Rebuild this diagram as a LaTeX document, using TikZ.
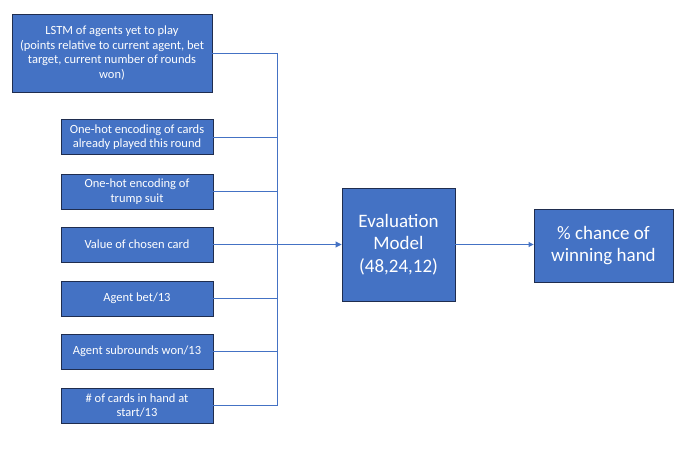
\documentclass[tikz,border=0pt]{standalone}
\usepackage{fontspec}
\setmainfont{Carlito}
\usetikzlibrary{arrows.meta}
\definecolor{boxblue}{HTML}{4472C4}
\definecolor{boxedge}{HTML}{1F2D4F}
\tikzset{
	inbox/.style={draw=boxedge, line width=0.9pt, fill=boxblue, text=white, align=center, font=\fontsize{12.5}{14.5}\selectfont, inner sep=0pt},
	bigbox/.style={inbox, font=\fontsize{19}{22.5}\selectfont},
	wire/.style={draw=boxblue, line width=0.9pt},
}
\begin{document}
\begin{tikzpicture}[x=1pt, y=-1pt]
			%%%%% FRAME %%%%%
			\useasboundingbox (0, 0) rectangle (690, 449);
			
			%%%%% INPUTS %%%%%
			\node[inbox, minimum width=200, minimum height=78] (lstm) at (112, 53) {LSTM of agents yet to play\\(points relative to current agent, bet\\target, current number of rounds\\won)};
			
			\node[inbox, minimum width=152, minimum height=35] (played) at (137, 137) {One-hot encoding of cards\\already played this round};
			\node[inbox, minimum width=152, minimum height=35] (trump) at (137, 191.5) {One-hot encoding of\\trump suit};
			\node[inbox, minimum width=152, minimum height=35] (chosen) at (137, 244.5) {Value of chosen card};
			\node[inbox, minimum width=152, minimum height=35] (bet) at (137, 298.5) {Agent bet/13};
			\node[inbox, minimum width=152, minimum height=35] (won) at (137, 351.5) {Agent subrounds won/13};
			\node[inbox, minimum width=152, minimum height=35] (start) at (137, 405.5) {\# of cards in hand at\\start/13};
			
			%%%%% MODEL %%%%%
			\node[bigbox, minimum width=113, minimum height=113] (eval) at (398.5, 244.5) {Evaluation\\Model\\(48,24,12)};
			\node[bigbox, minimum width=139, minimum height=73] (chance) at (603.5, 245.5) {\% chance of\\winning hand};
			
			%%%%% WIRES %%%%%
			\coordinate (bus) at (277, 53);
			\draw[wire] (lstm.east) -- (bus) -- (bus |- start.east);
			\foreach \n in {played, trump, chosen, bet, won, start}
				\draw[wire] (\n.east) -- (\n.east -| bus);
			\draw[wire, -{Triangle[width=6pt, length=6pt]}] (bus |- eval.west) -- (eval.west);
			\draw[wire, -{Triangle[width=5pt, length=5pt]}] (eval.east) -- (chance.west |- eval.east);
		\end{tikzpicture}
\end{document}
